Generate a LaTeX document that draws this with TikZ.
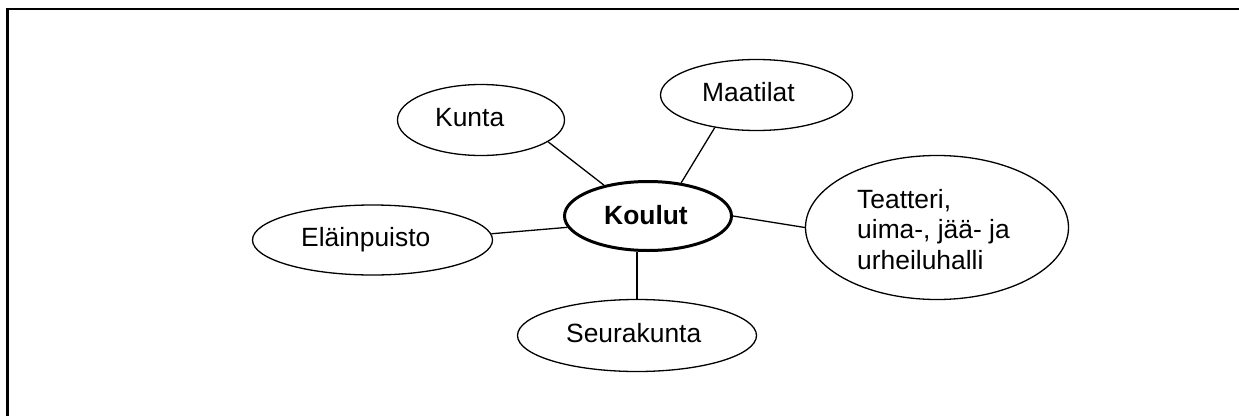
\documentclass[tikz,border=0pt]{standalone}
\usepackage{fontspec}
\setmainfont{Liberation Sans}
\usetikzlibrary{shapes.geometric}
\begin{document}
\begin{tikzpicture}[x=1pt,y=-1pt,
  bubble/.style={draw=black, line width=1.3pt, ellipse, inner sep=0pt},
  hub/.style={bubble, line width=3pt},
  txt/.style={inner sep=0pt, anchor=base west, font=\fontsize{26.4}{30.5}\selectfont},
  link/.style={draw=black, line width=1.3pt},
  frameline/.style={draw=black, line width=2.3pt}]
\useasboundingbox (0,0) rectangle (1239,415);
% frame
\coordinate (fbl) at (7.5,420);
\coordinate (ftl) at (7.5,8.7);
\coordinate (ftr) at (1242,8.7);
\draw[frameline] (fbl) -- (ftl) -- (ftr);
% ellipses
\node[bubble, minimum width=167pt, minimum height=71pt] (kunta) at (481,120) {};
\node[bubble, minimum width=192pt, minimum height=71pt] (maat) at (756.5,95) {};
\node[hub, minimum width=167pt, minimum height=69pt] (koulut) at (648,216) {};
\node[bubble, minimum width=240pt, minimum height=70pt] (elain) at (372.5,240) {};
\node[bubble, minimum width=239pt, minimum height=72pt] (seur) at (637,335.5) {};
\node[bubble, minimum width=263pt, minimum height=144pt] (teat) at (937,227.5) {};
% texts
\node[txt] (tkunta) at (435,126) {Kunta};
\node[txt] (tmaat) at (702,101.7) {Maatilat};
\node[txt, font=\fontsize{26.4}{30.5}\selectfont\bfseries] (tkoulut) at (604,224) {Koulut};
\node[txt] (telain) at (301,246.7) {Eläinpuisto};
\node[txt] (tseur) at (566,342.3) {Seurakunta};
\node[txt, align=left] (tteat) at (857,269.3) {Teatteri,\\uima-, jää- ja\\urheiluhalli};
% connectors
\draw[link] (kunta.-18) -- (koulut.145);
\draw[link] (maat.218) -- (koulut.45);
\draw[link] (elain.3) -- (koulut.188);
\draw[link] (koulut.0) -- (teat.180);
\draw[link] (seur.north) -- (seur.north |- koulut.south);
\end{tikzpicture}
\end{document}
